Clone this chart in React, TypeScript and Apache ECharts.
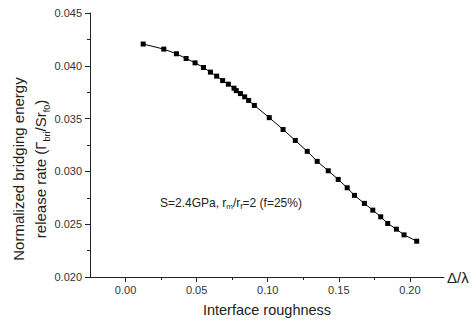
import React, { useEffect, useRef } from "react";
import * as echarts from "echarts";

const roughness = [
  0.0124, 0.0269, 0.0358, 0.0426, 0.0489, 0.0548, 0.0597, 0.0641, 0.0683, 0.0723,
  0.0763, 0.0779, 0.0808, 0.0838, 0.0866, 0.0906, 0.1011, 0.1108, 0.1194, 0.1278,
  0.1348, 0.1426, 0.1496, 0.1559, 0.161, 0.168, 0.1739, 0.1795, 0.1844, 0.1905,
  0.1959, 0.2048,
];
const energyRate = [
  0.04206, 0.04158, 0.04114, 0.04069, 0.04028, 0.03984, 0.0394, 0.03902, 0.0386, 0.03826,
  0.03788, 0.03765, 0.03737, 0.03706, 0.03672, 0.03625, 0.03509, 0.03397, 0.03293, 0.0319,
  0.03095, 0.03006, 0.02924, 0.02845, 0.02773, 0.02697, 0.02633, 0.0257, 0.02507, 0.02453,
  0.02399, 0.02339,
];
const xMajorTicks = [0, 0.05, 0.1, 0.15, 0.2];
const xMinorTicks = [0.025, 0.075, 0.125, 0.175, 0.225];

const FONT = "'Liberation Sans', Arial, sans-serif";
const TEXT = "#222";

export default function App() {
  const ref = useRef<HTMLDivElement>(null);
  useEffect(() => {
    if (!ref.current) return;
    const chart = echarts.init(ref.current, null, { renderer: "svg" });
    const data = roughness.map((x, i) => [x, energyRate[i]]);
    chart.setOption({
      animation: false,
      backgroundColor: "#fff",
      grid: { left: 90, right: 27, top: 13, bottom: 46, containLabel: false, outerBoundsMode: "none" },
      xAxis: [
        {
          type: "value",
          min: -0.025,
          max: 0.224,
          name: "Δ/λ",
          nameLocation: "end",
          nameGap: 3,
          nameTextStyle: { fontFamily: FONT, fontSize: 15, color: TEXT, align: "left", verticalAlign: "middle" },
          axisLine: { show: true, onZero: false, lineStyle: { color: "#222", width: 1 } },
          axisTick: { show: true, customValues: xMajorTicks, length: 5, lineStyle: { color: "#222" } },
          axisLabel: {
            customValues: xMajorTicks,
            margin: 7,
            fontFamily: FONT,
            fontSize: 11,
            color: "#333",
            formatter: (v: number) => v.toFixed(2),
          },
          splitLine: { show: false },
        },
        {
          type: "value",
          min: -0.025,
          max: 0.224,
          position: "bottom",
          axisLine: { show: false, onZero: false },
          axisTick: { show: true, customValues: xMinorTicks, length: 3, lineStyle: { color: "#222" } },
          axisLabel: { show: false },
          splitLine: { show: false },
        },
      ],
      yAxis: {
        type: "value",
        min: 0.02,
        max: 0.045,
        interval: 0.005,
        axisLine: { show: true, onZero: false, lineStyle: { color: "#222", width: 1 } },
        axisTick: { show: true, length: 5, lineStyle: { color: "#222" } },
        minorTick: { show: true, splitNumber: 2, length: 3, lineStyle: { color: "#222" } },
        axisLabel: {
          margin: 8,
          fontFamily: FONT,
          fontSize: 11,
          color: "#333",
          formatter: (v: number) => v.toFixed(3),
        },
        splitLine: { show: false },
      },
      series: [
        {
          type: "line",
          data,
          xAxisIndex: 0,
          symbol: "rect",
          symbolSize: 5,
          showSymbol: true,
          itemStyle: { color: "#000" },
          lineStyle: { color: "#000", width: 1 },
          smooth: false,
        },
      ],
      graphic: [
        {
          type: "text",
          x: 29,
          y: 169,
          rotation: Math.PI / 2,
          style: {
            text: "Normalized bridging energy\nrelease rate (Γ{sub|bri}/Sr{sub|f0})",
            fontFamily: FONT,
            fontSize: 15,
            lineHeight: 22,
            fill: TEXT,
            align: "center",
            verticalAlign: "middle",
            rich: {
              sub: { fontFamily: FONT, fontSize: 9, lineHeight: 9, verticalAlign: "bottom", fill: TEXT },
            },
          },
        },
        {
          type: "text",
          x: 267,
          y: 310,
          style: {
            text: "Interface roughness",
            fontFamily: FONT,
            fontSize: 14.5,
            fill: TEXT,
            align: "center",
            verticalAlign: "middle",
          },
        },
        {
          type: "text",
          x: 160,
          y: 203,
          style: {
            text: "S=2.4GPa, r{sub|m}/r{sub|f}=2 (f=25%)",
            fontFamily: FONT,
            fontSize: 12,
            lineHeight: 14,
            fill: TEXT,
            align: "left",
            verticalAlign: "middle",
            rich: {
              sub: { fontFamily: FONT, fontSize: 8, lineHeight: 8, verticalAlign: "bottom", fill: TEXT },
            },
          },
        },
      ],
    });
    return () => chart.dispose();
  }, []);
  return (
    <div
      ref={ref}
      style={{ position: "fixed", left: 0, top: 0, width: 471, height: 323, background: "#fff" }}
    />
  );
}
